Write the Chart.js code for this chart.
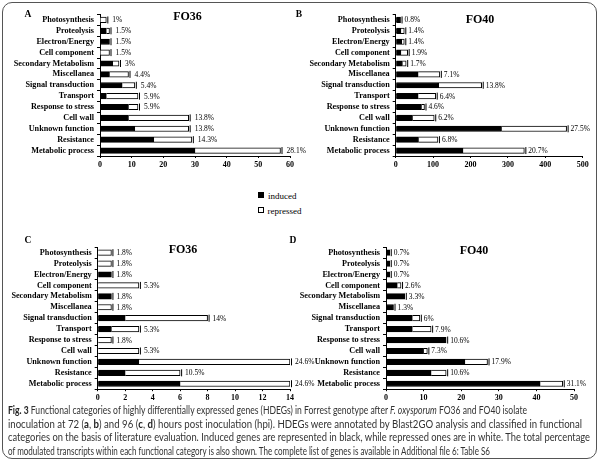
<!DOCTYPE html>
<html><head><meta charset="utf-8">
<script src="https://cdn.jsdelivr.net/npm/chart.js@4.4.1/dist/chart.umd.min.js"></script>
<style>
html,body{margin:0;padding:0;background:#fff;}
#wrap{position:relative;width:600px;height:463px;overflow:hidden;background:#fff;}
#frame{position:absolute;left:2px;top:2px;width:593px;height:455px;border:1.5px solid #555;border-radius:10px;}
canvas{position:absolute;}
.t{position:absolute;font-family:"Liberation Serif",serif;font-weight:bold;color:#000;white-space:nowrap;transform:translate(-50%,-50%);line-height:1;}
.lg{position:absolute;font-family:"Liberation Serif",serif;font-size:9px;color:#000;white-space:nowrap;line-height:1;}
.sq{display:inline-block;width:4px;height:4px;border:1px solid #000;margin-right:4px;vertical-align:1px;}
.cap{position:absolute;left:8px;font-family:Lato,"Liberation Sans",sans-serif;font-size:10.5px;color:#333;white-space:nowrap;transform-origin:0 50%;line-height:1;}
.cap b{color:#222;}
</style>
</head><body>
<div id="wrap">
<div id="frame"></div>
<canvas id="cA" width="310" height="182" style="left:0;top:0"></canvas>
<canvas id="cB" width="310" height="182" style="left:290px;top:0"></canvas>
<canvas id="cC" width="320" height="180" style="left:0;top:230px"></canvas>
<canvas id="cD" width="310" height="180" style="left:290px;top:230px"></canvas>
<div class="t" style="left:28px;top:14.5px;font-size:9.5px">A</div>
<div class="t" style="left:299px;top:14.5px;font-size:9.5px">B</div>
<div class="t" style="left:28px;top:241px;font-size:9.5px">C</div>
<div class="t" style="left:293px;top:241px;font-size:9.5px">D</div>
<div class="t" style="left:187.5px;top:16px;font-size:12px">FO36</div>
<div class="t" style="left:480px;top:19px;font-size:12px">FO40</div>
<div class="t" style="left:183px;top:249px;font-size:12px">FO36</div>
<div class="t" style="left:474px;top:249.5px;font-size:12px">FO40</div>
<div class="lg" style="left:258px;top:192px"><span class="sq" style="background:#000"></span>induced</div>
<div class="lg" style="left:257.5px;top:206.5px"><span class="sq" style="background:#fff"></span>repressed</div>
<div class="cap" data-w="519" style="top:410px"><b>Fig. 3</b> Functional categories of highly differentially expressed genes (HDEGs) in Forrest genotype after <i>F. oxysporum</i> FO36 and FO40 isolate</div>
<div class="cap" data-w="574" style="top:423.5px">inoculation at 72 (<b>a</b>, <b>b</b>) and 96 (<b>c</b>, <b>d</b>) hours post inoculation (hpi). HDEGs were annotated by Blast2GO analysis and classified in functional</div>
<div class="cap" data-w="582" style="top:437px">categories on the basis of literature evaluation. Induced genes are represented in black, while repressed ones are in white. The total percentage</div>
<div class="cap" data-w="482" style="top:450.5px">of modulated transcripts within each functional category is also shown. The complete list of genes is available in Additional file 6: Table S6</div>
</div>
<script>
const categories = ['Photosynthesis','Proteolysis','Electron/Energy','Cell component','Secondary Metabolism','Miscellanea','Signal transduction','Transport','Response to stress','Cell wall','Unknown function','Resistance','Metabolic process'];

// Panel A: FO36, 72 hpi
const inducedA   = [0, 2, 3, 0, 4, 3, 7, 2, 9, 9, 11, 17, 30];
const repressedA = [2, 1, 0, 3, 2, 6, 4, 10, 3, 19, 17, 12, 27];
const pctA = ['1%','1.5%','1.5%','1.5%','3%','4.4%','5.4%','5.9%','5.9%','13.8%','13.8%','14.3%','28.1%'];
const ticksA = {max: 60, step: 10};

// Panel B: FO40, 72 hpi
const inducedB   = [13, 14, 16, 14, 18, 60, 115, 60, 69, 45, 283, 61, 180];
const repressedB = [0, 9, 7, 18, 10, 58, 115, 47, 8, 58, 174, 52, 164];
const pctB = ['0.8%','1.4%','1.4%','1.9%','1.7%','7.1%','13.8%','6.4%','4.6%','6.2%','27.5%','6.8%','20.7%'];
const ticksB = {max: 500, step: 100};

// Panel C: FO36, 96 hpi
const inducedC   = [0, 0, 1, 0, 1, 0, 2, 1, 0, 0, 3, 2, 6];
const repressedC = [1, 1, 0, 3, 0, 1, 6, 2, 1, 3, 11, 4, 8];
const pctC = ['1.8%','1.8%','1.8%','5.3%','1.8%','1.8%','14%','5.3%','1.8%','5.3%','24.6%','10.5%','24.6%'];
const ticksC = {max: 14, step: 2};

// Panel D: FO40, 96 hpi
const inducedD   = [1, 1, 1, 3, 5, 2, 7, 7, 16, 10, 21, 12, 41];
const repressedD = [0, 0, 0, 1, 0, 0, 2, 5, 0, 1, 6, 4, 6];
const pctD = ['0.7%','0.7%','0.7%','2.6%','3.3%','1.3%','6%','7.9%','10.6%','7.3%','17.9%','10.6%','31.1%'];
const ticksD = {max: 50, step: 10};

const SERIF = '"Liberation Serif", "Times New Roman", serif';

const endPlugin = {
  id: 'ends',
  afterDatasetsDraw(chart, args, opts) {
    const ctx = chart.ctx, x = chart.scales.x, y = chart.scales.y;
    const ind = chart.data.datasets[0].data, rep = chart.data.datasets[1].data;
    ctx.save();
    ind.forEach((v, i) => {
      const tot = v + rep[i];
      const px = x.getPixelForValue(tot), py = y.getPixelForValue(i);
      ctx.strokeStyle = '#000'; ctx.lineWidth = 1;
      ctx.beginPath(); ctx.moveTo(px + 1.5, py - 3.5); ctx.lineTo(px + 1.5, py + 3.5); ctx.stroke();
      ctx.fillStyle = '#000';
      ctx.font = '7.5px ' + SERIF;
      ctx.textBaseline = 'middle'; ctx.textAlign = 'left';
      ctx.fillText(opts.labels[i], px + opts.gap, py + 0.5);
    });
    ctx.restore();
  }
};

function panel(id, canvasLeft, canvasTop, w, h, induced, repressed, pct, tk, g) {
  const yw = g.axisX - canvasLeft;
  const pr = canvasLeft + w - g.axisRight;
  const pt = g.areaTop - canvasTop;
  const xh = canvasTop + h - g.areaBottom;
  new Chart(document.getElementById(id), {
    type: 'bar',
    data: {
      labels: categories,
      datasets: [
        {label: 'induced', data: induced, backgroundColor: '#000', borderColor: '#000', borderWidth: 1, barThickness: 5.5, stack: 's'},
        {label: 'repressed', data: repressed, backgroundColor: '#fff', borderColor: '#000', borderWidth: 1, barThickness: 5.5, stack: 's'}
      ]
    },
    options: {
      indexAxis: 'y', responsive: false, animation: false, devicePixelRatio: 1,
      layout: {padding: {top: pt, right: pr, left: 0, bottom: 0}},
      plugins: {legend: {display: false}, tooltip: {enabled: false}, ends: {labels: pct, gap: g.gap}},
      scales: {
        x: {
          stacked: true, min: 0, max: tk.max,
          ticks: {stepSize: tk.step, color: '#000', font: {family: SERIF, weight: 'bold', size: 8}, padding: 2, maxRotation: 0},
          grid: {drawOnChartArea: false, drawTicks: true, tickLength: 2, color: '#000'},
          border: {color: '#000', width: 1},
          afterFit: s => { s.height = xh; }
        },
        y: {
          stacked: true,
          ticks: {color: '#000', font: {family: SERIF, weight: 'bold', size: 8.2}, padding: 3, autoSkip: false},
          grid: {drawOnChartArea: false, tickLength: 3, color: '#000'},
          border: {color: '#000', width: 1},
          afterFit: s => { s.width = yw; }
        }
      }
    },
    plugins: [endPlugin]
  });
}

panel('cA', 0, 0, 310, 182, inducedA, repressedA, pctA, ticksA, {axisX: 100, axisRight: 290, areaTop: 14.5, areaBottom: 156, gap: 6});
panel('cB', 290, 0, 310, 182, inducedB, repressedB, pctB, ticksB, {axisX: 395.7, axisRight: 582.7, areaTop: 14.5, areaBottom: 156, gap: 4});
panel('cC', 0, 230, 320, 180, inducedC, repressedC, pctC, ticksC, {axisX: 97.7, axisRight: 290, areaTop: 247.2, areaBottom: 389.2, gap: 5});
panel('cD', 290, 230, 310, 180, inducedD, repressedD, pctD, ticksD, {axisX: 386, axisRight: 574, areaTop: 247.2, areaBottom: 389.2, gap: 4});

document.querySelectorAll('.cap').forEach(el => {
  const target = parseFloat(el.dataset.w);
  const w = el.getBoundingClientRect().width;
  el.style.transform = 'translateY(-50%) scaleX(' + (target / w) + ')';
});
</script>
</body></html>
